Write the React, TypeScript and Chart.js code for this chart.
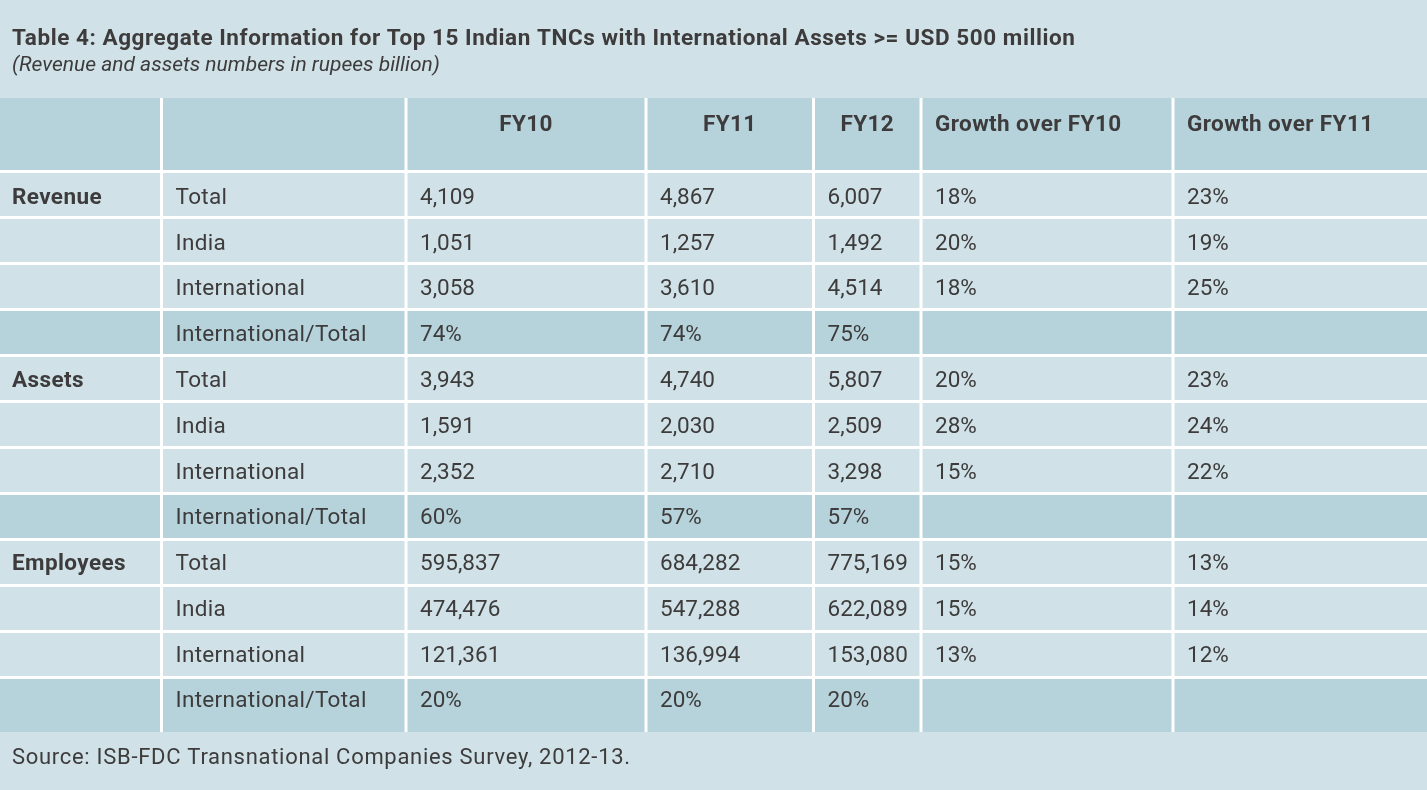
import React, { useEffect, useRef } from 'react';
import { Chart, registerables } from 'chart.js';

Chart.register(...registerables);

// ---- text ----
const titleText = 'Table 4: Aggregate Information for Top 15 Indian TNCs with International Assets >= USD 500 million';
const subtitleText = '(Revenue and assets numbers in rupees billion)';
const sourceText = 'Source: ISB-FDC Transnational Companies Survey, 2012-13.';
const columnHeaders = ['FY10', 'FY11', 'FY12', 'Growth over FY10', 'Growth over FY11'];
const sections = ['Revenue', 'Assets', 'Employees'];
const rowLabels = ['Total', 'India', 'International'];
const shareLabel = 'International/Total';

// ---- data ----
const revenueFY10 = [4109, 1051, 3058];
const revenueFY11 = [4867, 1257, 3610];
const revenueFY12 = [6007, 1492, 4514];
const revenueGrowthFY10 = [18, 20, 18];
const revenueGrowthFY11 = [23, 19, 25];
const revenueShare = [74, 74, 75];

const assetsFY10 = [3943, 1591, 2352];
const assetsFY11 = [4740, 2030, 2710];
const assetsFY12 = [5807, 2509, 3298];
const assetsGrowthFY10 = [20, 28, 15];
const assetsGrowthFY11 = [23, 24, 22];
const assetsShare = [60, 57, 57];

const employeesFY10 = [595837, 474476, 121361];
const employeesFY11 = [684282, 547288, 136994];
const employeesFY12 = [775169, 622089, 153080];
const employeesGrowthFY10 = [15, 15, 13];
const employeesGrowthFY11 = [13, 14, 12];
const employeesShare = [20, 20, 20];

// ---- layout (scale units) ----
const colWidths = [161.5, 244.5, 240, 167.5, 107.5, 252, 254];
const rowHeights = [73.5, 46, 46, 46, 46, 46, 46, 46, 46, 46, 46, 46, 54.5];
const headerAlign = ['left', 'left', 'center', 'center', 'center', 'left', 'left'];

const LIGHT = '#d0e2e7';
const DARK = '#b6d3dc';
const TEXT = '#3d3b3b';
const FONT = 'Roboto, "DejaVu Sans", sans-serif';

const fmtNum = (v: number) => v.toLocaleString('en-US');
const fmtPct = (v: number) => `${v}%`;

type Row = { cells: string[]; dark: boolean; header?: boolean };

function buildRows(): Row[] {
  const rows: Row[] = [];
  rows.push({ cells: ['', '', ...columnHeaders], dark: true, header: true });
  const groups = [
    [revenueFY10, revenueFY11, revenueFY12, revenueGrowthFY10, revenueGrowthFY11, revenueShare],
    [assetsFY10, assetsFY11, assetsFY12, assetsGrowthFY10, assetsGrowthFY11, assetsShare],
    [employeesFY10, employeesFY11, employeesFY12, employeesGrowthFY10, employeesGrowthFY11, employeesShare],
  ];
  groups.forEach((g, gi) => {
    const [a, b, c, g1, g2, share] = g;
    rowLabels.forEach((lab, i) => {
      rows.push({
        cells: [i === 0 ? sections[gi] : '', lab, fmtNum(a[i]), fmtNum(b[i]), fmtNum(c[i]), fmtPct(g1[i]), fmtPct(g2[i])],
        dark: false,
      });
    });
    rows.push({ cells: ['', shareLabel, fmtPct(share[0]), fmtPct(share[1]), fmtPct(share[2]), '', ''], dark: true });
  });
  return rows;
}

function setFont(ctx: any, font: string, spacing: number) {
  ctx.font = font;
  if ('letterSpacing' in ctx) ctx.letterSpacing = `${spacing}px`;
}

const tablePlugin = {
  id: 'tablePlugin',
  beforeDraw(chart: any) {
    const ctx = chart.ctx as CanvasRenderingContext2D;
    const xs = chart.scales.x;
    const ys = chart.scales.y;
    const area = chart.chartArea;
    const rows = buildRows();

    ctx.save();
    ctx.fillStyle = LIGHT;
    ctx.fillRect(0, 0, chart.width, chart.height);

    const colEdges: number[] = [0];
    colWidths.forEach((w) => colEdges.push(colEdges[colEdges.length - 1] + w));
    const rowEdges: number[] = [0];
    rowHeights.forEach((h) => rowEdges.push(rowEdges[rowEdges.length - 1] + h));
    const px = (v: number) => xs.getPixelForValue(v);
    const py = (v: number) => ys.getPixelForValue(v);

    // row backgrounds
    rows.forEach((r, ri) => {
      const y0 = py(rowEdges[ri]);
      const y1 = py(rowEdges[ri + 1]);
      ctx.fillStyle = r.dark ? DARK : LIGHT;
      ctx.fillRect(px(0), y0, px(colEdges[colEdges.length - 1]) - px(0), y1 - y0);
    });

    // white grid lines
    ctx.fillStyle = '#ffffff';
    const LW = 3;
    for (let i = 1; i < rowEdges.length - 1; i++) {
      const y = py(rowEdges[i]);
      ctx.fillRect(area.left, y - LW / 2, area.right - area.left, LW);
    }
    for (let i = 1; i < colEdges.length - 1; i++) {
      const x = px(colEdges[i]);
      ctx.fillRect(x - LW / 2, area.top, LW, area.bottom - area.top);
    }

    // cell text
    ctx.fillStyle = TEXT;
    ctx.textBaseline = 'alphabetic';
    rows.forEach((r, ri) => {
      const top = py(rowEdges[ri]);
      const baseY = top + 32.6 - ri * 0.22;
      r.cells.forEach((t, ci) => {
        if (!t) return;
        const bold = r.header || ci === 0;
        const numeric = !r.header && ci >= 2;
        setFont(ctx, `${bold ? 'bold ' : ''}22.5px ${FONT}`, bold ? 0.4 : numeric ? 0 : 0.3);
        const x0 = px(colEdges[ci]);
        const x1 = px(colEdges[ci + 1]);
        if (r.header && headerAlign[ci] === 'center') {
          ctx.textAlign = 'center';
          ctx.fillText(t, (x0 + x1) / 2, baseY);
        } else {
          ctx.textAlign = 'left';
          ctx.fillText(t, ci === 0 ? x0 + 12 : x0 + 14, baseY);
        }
      });
    });

    // title, subtitle, source
    ctx.textAlign = 'left';
    setFont(ctx, `bold 22.5px ${FONT}`, 0.55);
    ctx.fillText(titleText, 12, 45);
    setFont(ctx, `italic 21px ${FONT}`, 0);
    ctx.fillText(subtitleText, 12, 71);
    setFont(ctx, `22px ${FONT}`, 0.7);
    ctx.fillText(sourceText, 12, 764);
    ctx.restore();
  },
};

export default function App() {
  const ref = useRef<HTMLCanvasElement | null>(null);
  useEffect(() => {
    document.body.style.margin = '0';
    const canvas = ref.current;
    if (!canvas) return;
    const totalW = colWidths.reduce((a, b) => a + b, 0);
    const totalH = rowHeights.reduce((a, b) => a + b, 0);
    const chart = new Chart(canvas, {
      type: 'scatter',
      data: { datasets: [] },
      options: {
        responsive: false,
        animation: false,
        devicePixelRatio: 1,
        layout: { padding: { top: 98, bottom: 58, left: 0, right: 0 } },
        scales: {
          x: { type: 'linear', min: 0, max: totalW, display: false },
          y: { type: 'linear', min: 0, max: totalH, reverse: true, display: false },
        },
        plugins: {
          legend: { display: false },
          tooltip: { enabled: false },
          title: { display: false },
        },
      },
      plugins: [tablePlugin],
    } as any);
    return () => chart.destroy();
  }, []);
  return <canvas ref={ref} width={1427} height={790} style={{ display: 'block' }} />;
}
